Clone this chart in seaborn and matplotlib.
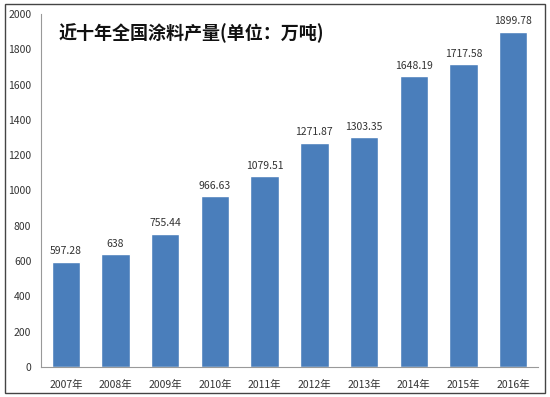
import matplotlib
matplotlib.use("Agg")
import matplotlib.pyplot as plt
import seaborn as sns
import pandas as pd
from matplotlib.patches import Rectangle

years = ["2007年", "2008年", "2009年", "2010年", "2011年",
         "2012年", "2013年", "2014年", "2015年", "2016年"]
output = [597.28, 638, 755.44, 966.63, 1079.51,
          1271.87, 1303.35, 1648.19, 1717.58, 1899.78]
value_labels = ["597.28", "638", "755.44", "966.63", "1079.51",
                "1271.87", "1303.35", "1648.19", "1717.58", "1899.78"]
title = "近十年全国涂料产量(单位：万吨)"

sns.set_style("white")
plt.rcParams['font.family'] = ['Noto Sans CJK SC', 'DejaVu Sans']

df = pd.DataFrame({"year": years, "output": output})

fig = plt.figure(figsize=(5.5, 3.97), dpi=100)
ax = fig.add_axes([41 / 550, 30 / 397, 497 / 550, 353 / 397])

sns.barplot(data=df, x="year", y="output", color="#4a7ebb", width=0.57,
            saturation=1, ax=ax)

for i, (v, lab) in enumerate(zip(output, value_labels)):
    ax.text(i, v + 30, lab, ha="center", va="bottom", fontsize=7.5, color="#333333")

ax.set_ylim(0, 2000)
ax.set_xlim(-0.5, 9.5)
ax.set_yticks(range(0, 2001, 200))
ax.tick_params(axis="both", labelsize=7.5, colors="#333333", length=0)
ax.tick_params(axis="x", pad=9)
ax.tick_params(axis="y", pad=7)
ax.set_xlabel("")
ax.set_ylabel("")

for side in ["top", "right"]:
    ax.spines[side].set_visible(False)
for side in ["left", "bottom"]:
    ax.spines[side].set_color("#999999")
    ax.spines[side].set_linewidth(0.8)

ax.text(0.035, 0.945, title, transform=ax.transAxes, fontsize=13,
        fontweight="bold", ha="left", va="center", color="#111111")

# outer frame
fig.patches.append(Rectangle((5 / 550, 4 / 397), 540 / 550, 389 / 397,
                             transform=fig.transFigure, fill=False,
                             edgecolor="#444444", linewidth=1))

fig.savefig("out.png", dpi=100)
